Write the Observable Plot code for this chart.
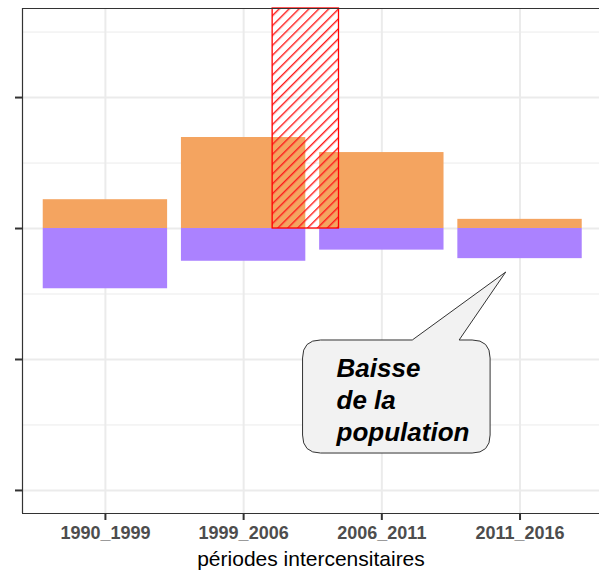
<!DOCTYPE html>
<html>
<head>
<meta charset="utf-8">
<script src="https://cdn.jsdelivr.net/npm/d3@7"></script>
<script src="https://cdn.jsdelivr.net/npm/@observablehq/plot@0.6"></script>
<style>
  html, body { margin: 0; padding: 0; background: #fff; }
  svg { display: block; }
</style>
</head>
<body>
<div id="chart"></div>
<script>
// Data (values in arbitrary units, 1 unit = one major y tick)
const categories = ["1990_1999", "1999_2006", "2006_2011", "2011_2016"];
const positiveValues = [0.22, 0.695, 0.58, 0.07];   // orange
const negativeValues = [-0.46, -0.25, -0.165, -0.23]; // purple
const yMajorTicks = [-2, -1, 0, 1];
const yMinorTicks = [-1.5, -0.5, 0.5, 1.5];
const hatchSpan = [1.21, 1.69]; // x extent (category index units)
const annotationLines = ["Baisse", "de la", "population"];
const xTitle = "périodes intercensitaires";

const xDomain = [-0.6, 3.575];
const yDomain = [-2.176, 1.68];

const bars = categories.flatMap((c, i) => [
  {i, v: positiveValues[i], sign: "pos"},
  {i, v: negativeValues[i], sign: "neg"}
]);

const svg = Plot.plot({
  width: 599,
  height: 570,
  marginLeft: 22,
  marginRight: 0,
  marginTop: 8,
  marginBottom: 57,
  style: {fontFamily: "Liberation Sans, Arial, sans-serif", background: "#fff"},
  x: {domain: xDomain, axis: null},
  y: {domain: yDomain, axis: null},
  marks: [
    Plot.ruleY(yMinorTicks, {stroke: "#ebebeb", strokeWidth: 1}),
    Plot.ruleY(yMajorTicks, {stroke: "#ebebeb", strokeWidth: 2}),
    Plot.ruleX(d3.range(categories.length), {stroke: "#ebebeb", strokeWidth: 2}),
    Plot.rectY(bars, {
      x1: d => d.i - 0.45, x2: d => d.i + 0.45,
      y1: 0, y2: "v",
      fill: d => d.sign === "pos" ? "#F4A460" : "#AB82FF"
    }),
    Plot.rect([hatchSpan], {
      x1: d => d[0], x2: d => d[1], y1: 0, y2: yDomain[1],
      fill: "url(#hatch)", stroke: "red", strokeWidth: 1.3
    }),
    Plot.ruleX([xDomain[0]], {stroke: "#333", strokeWidth: 1.2}),
    Plot.ruleY([yDomain[0], yDomain[1]], {stroke: "#333", strokeWidth: 1.2}),
    Plot.axisY({ticks: yMajorTicks, tickFormat: () => "", tickSize: 7, stroke: "#333", strokeWidth: 2, label: null}),
    Plot.axisX({
      ticks: d3.range(categories.length),
      tickFormat: i => categories[i],
      tickSize: 7, tickPadding: 6, stroke: "#333", strokeWidth: 2,
      fontSize: 18, fontWeight: "bold", fill: "#4d4d4d", label: null
    }),
    Plot.text([xTitle], {frameAnchor: "bottom", dy: 52, fontSize: 21, fill: "#000", text: d => d})
  ]
});

// hatch pattern
const defs = d3.select(svg).insert("defs", ":first-child");
const pat = defs.append("pattern")
  .attr("id", "hatch").attr("patternUnits", "userSpaceOnUse")
  .attr("width", 7).attr("height", 7)
  .attr("patternTransform", "rotate(45)");
pat.append("line").attr("x1", 0.7).attr("y1", 0).attr("x2", 0.7).attr("y2", 7)
  .attr("stroke", "#ff1a1a").attr("stroke-width", 1.4);

// speech bubble annotation
const xs = svg.scale("x"), ys = svg.scale("y");
const bx1 = xs.apply(1.43), bx2 = xs.apply(2.787);
const by1 = ys.apply(-0.855), by2 = ys.apply(-1.718);
const tb1 = xs.apply(2.224), tb2 = xs.apply(2.563);
const tipX = xs.apply(2.9), tipY = ys.apply(-0.336);
const r = 18;
const path = [
  `M${bx1 + r},${by1}`,
  `L${tb1},${by1}`,
  `L${tipX},${tipY}`,
  `L${tb2},${by1}`,
  `L${bx2 - r},${by1}`,
  `Q${bx2},${by1} ${bx2},${by1 + r}`,
  `L${bx2},${by2 - r}`,
  `Q${bx2},${by2} ${bx2 - r},${by2}`,
  `L${bx1 + r},${by2}`,
  `Q${bx1},${by2} ${bx1},${by2 - r}`,
  `L${bx1},${by1 + r}`,
  `Q${bx1},${by1} ${bx1 + r},${by1}`,
  "Z"
].join(" ");
const g = d3.select(svg).append("g");
g.append("path").attr("d", path).attr("fill", "#f2f2f2").attr("stroke", "#333").attr("stroke-width", 1);
const t = g.append("text")
  .attr("font-family", "Liberation Sans, Arial, sans-serif")
  .attr("font-weight", "bold").attr("font-style", "italic")
  .attr("text-anchor", "start")
  .attr("font-size", 26).attr("fill", "#000");
annotationLines.forEach((line, k) => {
  t.append("tspan").attr("x", bx1 + 34).attr("y", by1 + 37 + k * 32).text(line);
});

document.getElementById("chart").appendChild(svg);
</script>
</body>
</html>
